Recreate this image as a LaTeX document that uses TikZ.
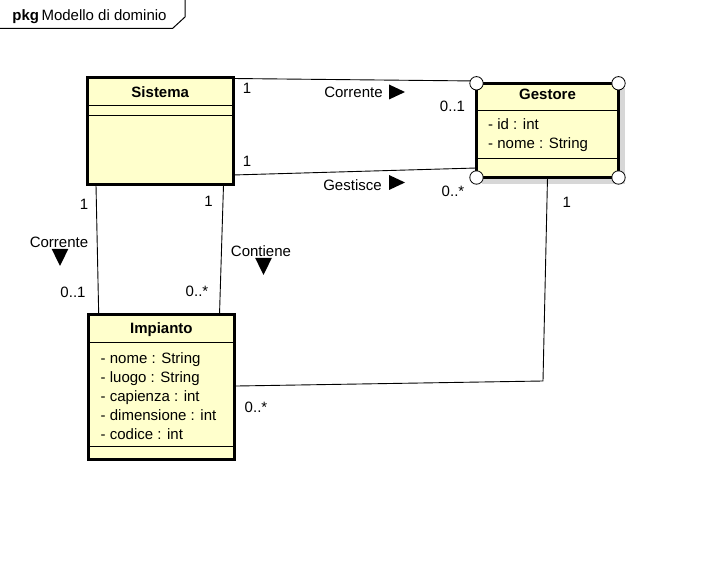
\documentclass[tikz,border=0pt]{standalone}
\usepackage{fontspec}
\setmainfont{Liberation Sans}
\usetikzlibrary{calc}
\definecolor{classfill}{RGB}{255,255,204}
\definecolor{shadowgray}{RGB}{215,215,215}

\begin{document}
\begin{tikzpicture}[x=1pt,y=-1pt,font=\fontsize{15}{17}\selectfont,
  classbox/.style={draw,line width=3pt,fill=classfill,inner sep=0pt,outer sep=0pt},
  corner/.style={circle,draw,fill=white,line width=0.8pt,minimum size=13.4pt,inner sep=0pt},
  assoc/.style={line width=0.9pt},
  divider/.style={line width=1pt},
  attr/.style={anchor=base west,inner sep=0pt},
  title/.style={anchor=base,inner sep=0pt,font=\fontsize{15}{17}\selectfont\bfseries},
  lbl/.style={anchor=base,inner sep=0pt}]

\useasboundingbox (0,0) rectangle (724,564);

% package tab
\draw[line width=1pt] (0,28.5) -- (172.5,28.5) -- (185,17) -- (185,0);
\node[lbl] (pkg) at (89.5,20.5) {\textbf{pkg}\,Modello di dominio};

% classes
\fill[shadowgray] (481.5,88.3) rectangle (625,184);
\node[classbox,minimum width=145.5pt,minimum height=107.5pt] (sis) at (160.25,131.25) {};
\node[classbox,minimum width=142pt,minimum height=94.2pt] (ges) at (547.5,130.4) {};
\node[classbox,minimum width=145.3pt,minimum height=145.3pt] (imp) at (161.35,387.35) {};

\node[title] (sist) at (160.25,97.5) {Sistema};
\foreach \y in {106,116}{%
\draw[divider] (sis.west |- 0,\y) -- (sis.east |- 0,\y);
}

\node[title] (gest) at (547.5,100) {Gestore};
\foreach \y in {110.7,158.3}{%
\draw[divider] (ges.west |- 0,\y) -- (ges.east |- 0,\y);
}
\node[attr] (gesa1) at (488,130) {- id : int};
\node[attr] (gesa2) at (488,149) {- nome : String};

\node[title] (impt) at (161.35,334) {Impianto};
\foreach \y in {342.7,446.7}{%
\draw[divider] (imp.west |- 0,\y) -- (imp.east |- 0,\y);
}
\foreach \a [count=\i] in {- nome : String,- luogo : String,- capienza : int,- dimensione : int,- codice : int}{%
\node[attr] (impa\i) at (100.5,{363.3+(\i-1)*19}) {\a};
}

% associations
\coordinate (bend) at (543,381);
\draw[assoc] ([yshift=-1pt]sis.north east) -- ([yshift=2.3pt]ges.north west);
\draw[assoc] ([yshift=10pt]sis.south east) -- ([yshift=9.5pt]ges.south west);
\draw[assoc] ([xshift=8.5pt]sis.south west) -- ([xshift=10pt]imp.north west);
\draw[assoc] ([xshift=-9.5pt]sis.south east) -- ([xshift=-14.5pt]imp.north east);
\draw[assoc] (ges.south) -- (bend) -- ([yshift=1.3pt]imp.east);

\foreach \c [count=\i] in {north west,north east,south west,south east}{%
\node[corner] (gc\i) at (ges.\c) {};
}

% direction marks
\foreach \p in {(397,92),(397,182.5)}{%
\fill[shift={\p}] (-8,-7.5) -- (8,0) -- (-8,7.5) -- cycle;
}
\foreach \p in {(60,257.5),(263.5,266.5)}{%
\fill[shift={\p}] (-8.3,-8.5) -- (8.3,-8.5) -- (0,8.5) -- cycle;
}

% labels
\node[lbl] (sg1a) at (247,93.5) {1};
\node[lbl] (sg1n) at (353.5,97.3) {Corrente};
\node[lbl] (sg1b) at (452.5,111.5) {0..1};
\node[lbl] (sg2a) at (247,167) {1};
\node[lbl] (sg2n) at (352.5,190.5) {Gestisce};
\node[lbl] (sg2b) at (453,197) {0..*};
\node[lbl] (si1a) at (84,210) {1};
\node[lbl] (si1n) at (59,248) {Corrente};
\node[lbl] (si1b) at (73,298) {0..1};
\node[lbl] (si2a) at (208.5,206.7) {1};
\node[lbl] (si2n) at (261,257) {Contiene};
\node[lbl] (si2b) at (197,296.7) {0..*};
\node[lbl] (gi1a) at (566.7,208) {1};
\node[lbl] (gi1b) at (256,413) {0..*};

\end{tikzpicture}
\end{document}
